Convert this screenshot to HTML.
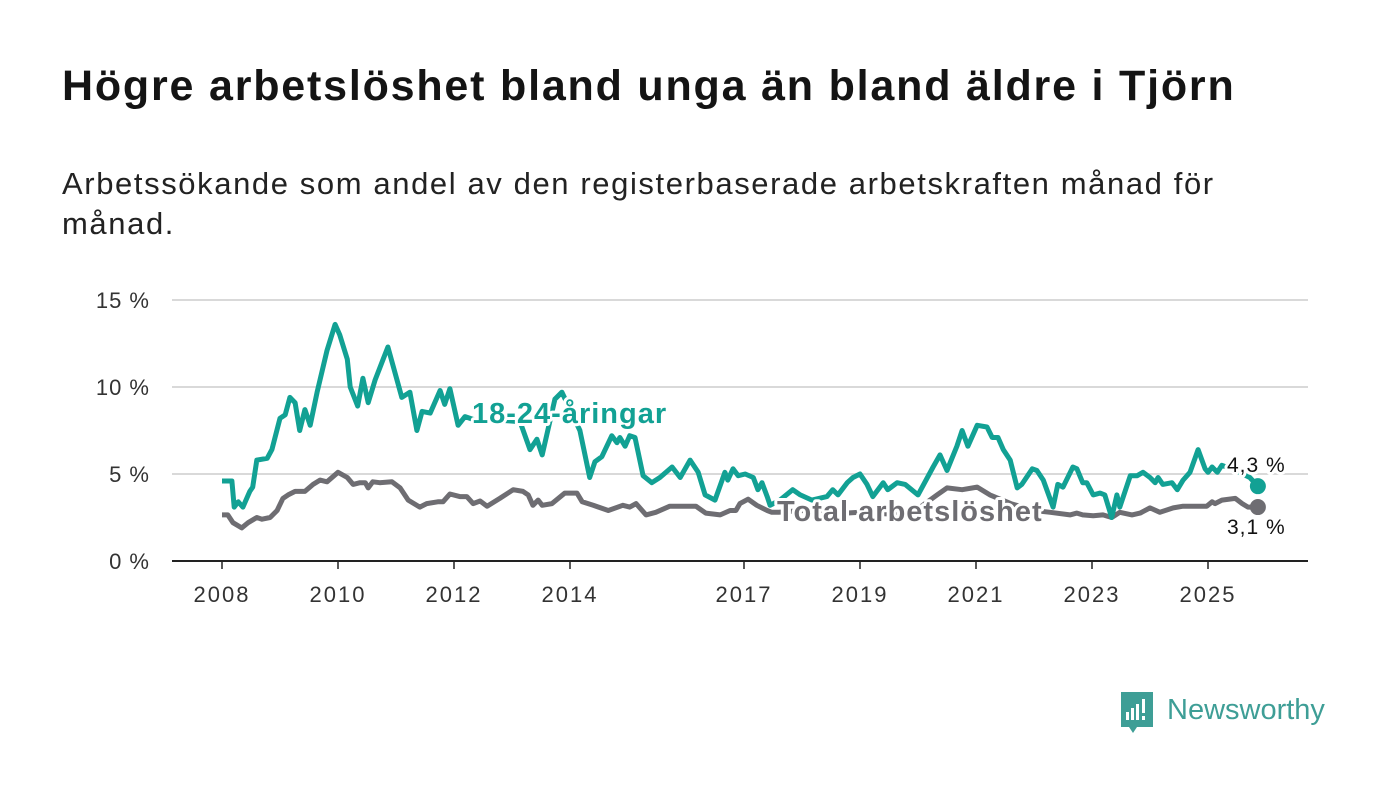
<!DOCTYPE html>
<html><head><meta charset="utf-8">
<style>
body{margin:0;background:#fff;width:1400px;height:794px;overflow:hidden;font-family:"Liberation Sans",sans-serif}
h1{position:absolute;left:62px;top:62px;margin:0;font-size:43px;font-weight:bold;color:#141414;letter-spacing:1.8px;white-space:nowrap}
.sub{position:absolute;left:62px;top:164px;margin:0;font-size:31px;line-height:40px;color:#222;width:1320px;letter-spacing:1.6px;white-space:nowrap}
svg{position:absolute;left:0;top:0}
</style></head><body>
<h1>Högre arbetslöshet bland unga än bland äldre i Tjörn</h1>
<p class="sub">Arbetssökande som andel av den registerbaserade arbetskraften månad för<br>månad.</p>
<svg id="chart" width="1400" height="794"></svg>
<script>
const yearTicks=[2008,2010,2012,2014,2017,2019,2021,2023,2025];
const valueTicks=[0,5,10,15];
const youthDates=[2008.00,2008.17,2008.21,2008.28,2008.36,2008.48,2008.53,2008.60,2008.78,2008.86,2009.00,2009.09,2009.17,2009.26,2009.34,2009.43,2009.52,2009.64,2009.81,2009.95,2010.03,2010.16,2010.21,2010.34,2010.43,2010.52,2010.64,2010.86,2011.10,2011.24,2011.36,2011.45,2011.59,2011.76,2011.84,2011.93,2012.07,2012.19,2012.45,2012.79,2013.14,2013.31,2013.43,2013.52,2013.74,2013.86,2014.17,2014.34,2014.43,2014.55,2014.72,2014.81,2014.86,2014.95,2015.03,2015.12,2015.26,2015.41,2015.55,2015.76,2015.90,2016.07,2016.21,2016.33,2016.50,2016.67,2016.72,2016.81,2016.90,2017.02,2017.16,2017.24,2017.31,2017.40,2017.45,2017.62,2017.84,2017.97,2018.17,2018.43,2018.53,2018.62,2018.78,2018.88,2019.00,2019.12,2019.22,2019.40,2019.48,2019.64,2019.78,2020.00,2020.26,2020.38,2020.50,2020.67,2020.76,2020.86,2021.02,2021.19,2021.28,2021.38,2021.47,2021.59,2021.71,2021.79,2021.97,2022.05,2022.16,2022.33,2022.41,2022.50,2022.67,2022.74,2022.84,2022.91,2023.02,2023.14,2023.22,2023.34,2023.43,2023.48,2023.66,2023.78,2023.88,2024.00,2024.09,2024.14,2024.22,2024.38,2024.47,2024.57,2024.69,2024.83,2024.95,2025.00,2025.07,2025.16,2025.24,2025.47,2025.72,2025.86];
const youthValues=[4.6,4.6,3.1,3.4,3.1,4.0,4.25,5.8,5.9,6.4,8.2,8.4,9.4,9.1,7.5,8.7,7.8,9.7,12.1,13.6,13.0,11.6,10.0,8.9,10.5,9.1,10.4,12.3,9.4,9.7,7.5,8.6,8.5,9.8,9.0,9.9,7.8,8.3,8.0,8.1,8.0,6.4,7.0,6.1,9.3,9.7,7.5,4.8,5.7,6.0,7.2,6.8,7.1,6.6,7.2,7.1,4.9,4.5,4.8,5.4,4.8,5.8,5.1,3.8,3.5,5.1,4.65,5.3,4.9,5.0,4.8,4.1,4.5,3.7,3.2,3.5,4.1,3.8,3.5,3.7,4.1,3.8,4.5,4.8,5.0,4.4,3.7,4.5,4.1,4.5,4.4,3.8,5.4,6.1,5.2,6.6,7.5,6.6,7.8,7.7,7.1,7.1,6.4,5.8,4.2,4.4,5.3,5.2,4.65,3.1,4.4,4.25,5.4,5.3,4.5,4.5,3.8,3.9,3.8,2.5,3.8,3.1,4.9,4.9,5.1,4.8,4.5,4.8,4.4,4.5,4.1,4.65,5.1,6.4,5.3,5.1,5.4,5.1,5.5,5.2,4.8,4.3];
const totalDates=[2008.00,2008.10,2008.19,2008.34,2008.45,2008.60,2008.69,2008.83,2008.95,2009.05,2009.14,2009.26,2009.43,2009.57,2009.69,2009.81,2010.00,2010.16,2010.26,2010.38,2010.47,2010.52,2010.60,2010.72,2010.93,2011.07,2011.21,2011.41,2011.53,2011.72,2011.81,2011.93,2012.10,2012.22,2012.33,2012.45,2012.57,2012.79,2013.02,2013.19,2013.28,2013.36,2013.45,2013.52,2013.69,2013.91,2014.12,2014.21,2014.40,2014.66,2014.91,2015.03,2015.14,2015.31,2015.48,2015.72,2016.17,2016.34,2016.59,2016.76,2016.86,2016.93,2017.07,2017.22,2017.40,2017.48,2017.60,2018.00,2018.50,2019.00,2019.50,2020.00,2020.33,2020.50,2020.76,2021.02,2021.24,2021.60,2022.00,2022.28,2022.62,2022.74,2022.84,2023.02,2023.19,2023.34,2023.48,2023.69,2023.83,2024.00,2024.17,2024.40,2024.57,2024.98,2025.07,2025.12,2025.24,2025.47,2025.59,2025.69,2025.86];
const totalValues=[2.65,2.65,2.2,1.9,2.2,2.5,2.4,2.5,2.9,3.6,3.8,4.0,4.0,4.4,4.65,4.55,5.1,4.8,4.4,4.5,4.5,4.2,4.55,4.5,4.55,4.2,3.5,3.1,3.3,3.4,3.4,3.85,3.7,3.7,3.3,3.45,3.15,3.6,4.1,4.0,3.8,3.2,3.5,3.2,3.3,3.9,3.9,3.4,3.2,2.9,3.2,3.1,3.3,2.65,2.8,3.15,3.15,2.75,2.65,2.9,2.9,3.3,3.55,3.2,2.9,2.8,2.8,2.9,2.7,2.8,2.7,3.0,3.8,4.2,4.1,4.25,3.8,3.3,2.9,2.8,2.65,2.75,2.65,2.6,2.65,2.5,2.8,2.65,2.75,3.05,2.8,3.05,3.15,3.15,3.4,3.3,3.5,3.6,3.3,3.1,3.1];
const NS="http://www.w3.org/2000/svg";
const svg=document.getElementById('chart');
const xS=y=>222+(y-2008)*58;
const yS=v=>561-v*17.4;
function mk(tag,attrs,parent){const e=document.createElementNS(NS,tag);for(const k in attrs)e.setAttribute(k,attrs[k]);(parent||svg).appendChild(e);return e;}
valueTicks.forEach(v=>{
  const l=mk('line',{x1:172,x2:1308,y1:yS(v),y2:yS(v),stroke:v===0?'#222':'#d9d9d9','stroke-width':2});
  
  
  const t=mk('text',{x:150,y:yS(v)+8,'text-anchor':'end','font-size':22,fill:'#333','letter-spacing':1});
  t.textContent=v+' %';
  
  
});
yearTicks.forEach(y=>{
  const l=mk('line',{x1:xS(y),x2:xS(y),y1:561,y2:569,stroke:'#222','stroke-width':1.5});
  
  
  const t=mk('text',{x:xS(y),y:602,'text-anchor':'middle','font-size':22,fill:'#333','letter-spacing':2});
  t.textContent=y;
  
  
});
function pts(d,v){return d.map((x,i)=>xS(x).toFixed(1)+','+yS(v[i]).toFixed(1)).join(' ');}
const tl=mk('polyline',{points:pts(totalDates,totalValues),fill:'none',stroke:'#6e6d72','stroke-width':5,'stroke-linejoin':'round'});


const yl=mk('polyline',{points:pts(youthDates,youthValues),fill:'none',stroke:'#12a194','stroke-width':5,'stroke-linejoin':'round'});


const yn=youthDates.length-1, tn=totalDates.length-1;
const d1=mk('circle',{cx:xS(youthDates[yn]),cy:yS(youthValues[yn]),r:8,fill:'#12a194'});


const d2=mk('circle',{cx:xS(totalDates[tn]),cy:yS(totalValues[tn]),r:8,fill:'#6e6d72'});


function lbl(x,y,txt,fill,size,weight,name,ls){
  const t=mk('text',{x:x,y:y,'font-size':size,'font-weight':weight,fill:fill,'letter-spacing':ls});
  t.setAttribute('stroke','#fff');t.setAttribute('stroke-width',6);t.setAttribute('paint-order','stroke');t.setAttribute('stroke-linejoin','round');
  t.textContent=txt;
  
  
}
lbl(472,423,'18-24-åringar','#12a194',29,'bold','youth-series-label',1.0);
lbl(777,521,'Total arbetslöshet','#6e6d72',29,'bold','total-series-label',1);
lbl(1227,472,youthValues[yn].toFixed(1).replace('.',',')+' %','#111',21,'normal','youth-end-value',1);
lbl(1227,534,totalValues[tn].toFixed(1).replace('.',',')+' %','#111',21,'normal','total-end-value',1);
</script>
<svg width="1400" height="794">
  <path d="M1121 692 h32 v35 h-16 l-4 6 l-4 -6 h-8 z" fill="#3e9e96"/>
  <rect x="1126" y="712" width="3" height="8" fill="#fff"/>
  <rect x="1131" y="708" width="3" height="12" fill="#fff"/>
  <rect x="1136" y="704" width="3" height="16" fill="#fff"/>
  <rect x="1142" y="699" width="3" height="14" fill="#fff"/>
  <rect x="1142" y="716" width="3" height="4" fill="#fff"/>
  <text x="1167" y="719" font-size="29" fill="#3e9e96" font-family="Liberation Sans, sans-serif">Newsworthy</text>
</svg>
</body></html>
